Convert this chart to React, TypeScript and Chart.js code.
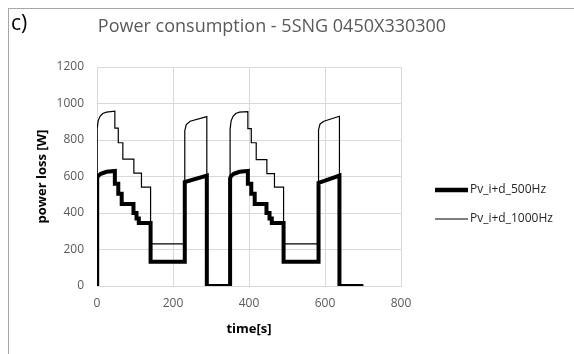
import React, { useEffect, useRef } from "react";
import { Chart, registerables } from "chart.js";

Chart.register(...registerables);

const chartTitle = "Power consumption - 5SNG 0450X330300";
const panelLabel = "c)";
const xAxisTitle = "time[s]";
const yAxisTitle = "power loss [W]";
const xTicks = [0, 200, 400, 600, 800];
const yTicks = [0, 200, 400, 600, 800, 1000, 1200];

const label500 = "Pv_i+d_500Hz";
const label1000 = "Pv_i+d_1000Hz";

const time500 = [
  0, 0.5, 3, 10, 25, 47, 47, 56, 56, 65, 65, 96, 96, 104, 104, 110, 110, 141, 141,
  231, 231, 289, 289, 350,
  350, 350.5, 353, 360, 375, 397, 397, 406, 406, 415, 415, 446, 446, 454, 454, 460, 460, 491, 491,
  583, 583, 638, 638, 701,
];
const power500 = [
  0, 590, 603, 615, 626, 630, 560, 560, 505, 505, 450, 450, 400, 400, 370, 370, 345, 345, 133,
  133, 570, 605, 0, 0,
  0, 590, 603, 615, 626, 630, 560, 560, 505, 505, 450, 450, 400, 400, 370, 370, 345, 345, 133,
  133, 565, 605, 0, 0,
];

const time1000 = [
  0, 0.5, 3, 8, 15, 25, 47, 47, 56, 56, 68, 68, 97, 97, 117, 117, 141, 141,
  231, 231, 235, 245, 289, 289, 350,
  350, 350.5, 353, 358, 365, 375, 397, 397, 406, 406, 419, 419, 447, 447, 467, 467, 491, 491,
  583, 583, 587, 597, 638, 638, 701,
];
const power1000 = [
  0, 860, 905, 930, 945, 953, 958, 865, 865, 785, 785, 695, 695, 618, 618, 542, 542, 231,
  231, 850, 885, 903, 928, 0, 0,
  0, 860, 905, 930, 945, 953, 956, 862, 862, 785, 785, 693, 693, 616, 616, 542, 542, 231,
  231, 855, 888, 903, 930, 0, 0,
];

const FONT = "'Open Sans', 'Liberation Sans', sans-serif";

const legendPlugin = {
  id: "sideLegend",
  afterDraw(chart: any) {
    const ctx = chart.ctx;
    const items = chart.data.datasets;
    const x0 = 435;
    const x1 = 468;
    const ys = [190, 219];
    ctx.save();
    items.forEach((ds: any, i: number) => {
      const y = ys[i];
      ctx.beginPath();
      ctx.strokeStyle = ds.borderColor;
      ctx.lineWidth = i === 0 ? 4.5 : 1.2;
      ctx.moveTo(x0, y);
      ctx.lineTo(x1, y);
      ctx.stroke();
      ctx.fillStyle = "#262626";
      ctx.font = `12px ${FONT}`;
      ctx.textAlign = "left";
      ctx.textBaseline = "middle";
      ctx.fillText(ds.label, x1 + 2, y);
    });
    ctx.restore();
  },
};

export default function App() {
  const ref = useRef<HTMLCanvasElement | null>(null);

  useEffect(() => {
    if (!ref.current) return;
    const d500 = time500.map((t, i) => ({ x: t, y: power500[i] }));
    const d1000 = time1000.map((t, i) => ({ x: t, y: power1000[i] }));
    const chart = new Chart(ref.current, {
      type: "scatter",
      data: {
        datasets: [
          {
            label: label500,
            data: d500,
            showLine: true,
            borderColor: "#000000",
            backgroundColor: "#000000",
            borderWidth: 4,
            pointRadius: 0,
            tension: 0,
            order: 1,
          },
          {
            label: label1000,
            data: d1000,
            showLine: true,
            borderColor: "#000000",
            backgroundColor: "#000000",
            borderWidth: 1.2,
            pointRadius: 0,
            tension: 0,
            order: 2,
          },
        ],
      },
      options: {
        animation: false,
        responsive: false,
        maintainAspectRatio: false,
        layout: { padding: { left: 26, right: 173, top: 67, bottom: 0 } },
        plugins: {
          legend: { display: false },
          tooltip: { enabled: false },
          title: { display: false },
        },
        scales: {
          x: {
            type: "linear",
            min: 0,
            max: 800,
            afterBuildTicks: (s: any) => {
              s.ticks = xTicks.map((v) => ({ value: v }));
            },
            afterFit: (s: any) => {
              s.height = 68;
            },
            ticks: {
              color: "#595959",
              font: { family: FONT, size: 12 },
              padding: 10,
              maxRotation: 0,
              callback: (v: any) => String(v),
            },
            grid: { color: "#d9d9d9", lineWidth: 1, drawTicks: false },
            border: { color: "#d9d9d9" },
            title: {
              display: true,
              text: xAxisTitle,
              color: "#000000",
              font: { family: FONT, size: 13, weight: "bold" },
              padding: { top: 0, bottom: 17 },
            },
          },
          y: {
            type: "linear",
            min: 0,
            max: 1200,
            afterBuildTicks: (s: any) => {
              s.ticks = yTicks.map((v) => ({ value: v }));
            },
            afterFit: (s: any) => {
              s.width = 71;
            },
            ticks: {
              color: "#595959",
              font: { family: FONT, size: 12 },
              padding: 13,
              callback: (v: any) => String(v),
            },
            grid: { color: "#d9d9d9", lineWidth: 1, drawTicks: false },
            border: { color: "#d9d9d9" },
            title: {
              display: true,
              text: yAxisTitle,
              color: "#000000",
              font: { family: FONT, size: 13, weight: "bold" },
              padding: { top: 8, bottom: 0 },
            },
          },
        },
      } as any,
      plugins: [legendPlugin],
    });
    return () => chart.destroy();
  }, []);

  return (
    <div style={{ position: "absolute", left: 0, top: 0, width: 574, height: 354, overflow: "hidden", background: "#fff" }}>
      <canvas ref={ref} width={574} height={354} style={{ position: "absolute", left: 0, top: 0, width: 574, height: 354 }} />
      <div
        style={{
          position: "absolute",
          left: 8,
          top: 8,
          width: 700,
          height: 500,
          borderLeft: "1px solid #a6a6a6",
          borderTop: "1px solid #a6a6a6",
          pointerEvents: "none",
        }}
      />
      <div
        style={{
          position: "absolute",
          left: 11,
          top: 9,
          fontFamily: FONT,
          fontSize: 21,
          lineHeight: "26px",
          color: "#000",
        }}
      >
        {panelLabel}
      </div>
      <div
        style={{
          position: "absolute",
          left: 0,
          width: 544,
          top: 13,
          textAlign: "center",
          fontFamily: FONT,
          fontSize: 18,
          lineHeight: "24px",
          color: "#595959",
          whiteSpace: "nowrap",
        }}
      >
        {chartTitle}
      </div>
    </div>
  );
}
